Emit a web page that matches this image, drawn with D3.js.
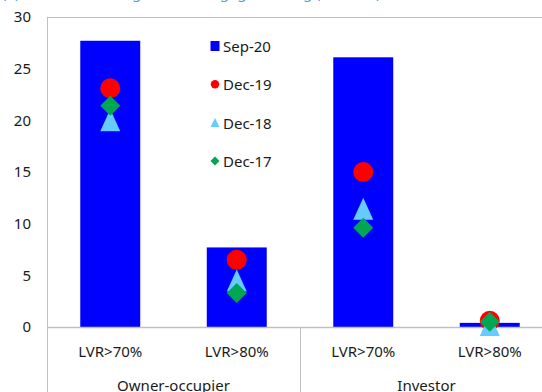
<!DOCTYPE html>
<html><head><meta charset="utf-8">
<script src="https://cdn.jsdelivr.net/npm/d3@7"></script>
<style>
html,body{margin:0;padding:0;background:#fff;overflow:hidden}
text{font-family:"Noto Sans","Open Sans",sans-serif;fill:#1a1a1a}
</style></head><body>
<script>
const categories = ["LVR>70%", "LVR>80%", "LVR>70%", "LVR>80%"];
const groups = ["Owner-occupier", "Investor"];
const seriesNames = ["Sep-20", "Dec-19", "Dec-18", "Dec-17"];
const sep20 = [27.7, 7.7, 26.1, 0.4];
const dec19 = [23.1, 6.5, 15.0, 0.6];
const dec18 = [20.0, 4.5, 11.45, 0.2];
const dec17 = [21.4, 3.3, 9.6, 0.5];
const yTicks = [0, 5, 10, 15, 20, 25, 30];

(function () {
const W = 542, H = 392;
const svg = d3.select("body").append("svg").attr("width", W).attr("height", H);

const pLeft = 47, pRight = 553, pTop = 17, pBottom = 327;
const x = d3.scaleBand().domain(d3.range(categories.length)).range([pLeft, pRight])
  .paddingInner(0.526).paddingOuter(0.263);
const y = d3.scaleLinear().domain([0, 30]).range([pBottom, pTop]);

// title (clipped at top, as in the reference)
svg.append("text").attr("x", 2).attr("y", -2.5).style("font-size", "15px").style("fill", "#4a9fdc")
  .text("(a) Share of new high-LVR mortgage lending (% share)");

// bars
svg.selectAll("rect.bar").data(sep20).join("rect").attr("class", "bar")
  .attr("x", (d, i) => x(i)).attr("width", x.bandwidth())
  .attr("y", d => y(d)).attr("height", d => y(0) - y(d)).attr("fill", "#0000ff");

// axis frame
const grey = "#c0c0c0";
svg.append("line").attr("x1", pLeft).attr("x2", W).attr("y1", pTop + 0.5).attr("y2", pTop + 0.5).attr("stroke", grey);
svg.append("line").attr("x1", pLeft + 0.5).attr("x2", pLeft + 0.5).attr("y1", pTop).attr("y2", H).attr("stroke", grey);
svg.append("line").attr("x1", pLeft).attr("x2", W).attr("y1", y(0) + 0.5).attr("y2", y(0) + 0.5).attr("stroke", grey).attr("stroke-width", 1.5);
const sepX = Math.round((x(1) + x.bandwidth() + x(2)) / 2);
svg.append("line").attr("x1", sepX + 0.5).attr("x2", sepX + 0.5).attr("y1", y(0)).attr("y2", H).attr("stroke", grey);

// y axis labels
const yAxis = d3.axisLeft(y).tickValues(yTicks).tickSize(0).tickPadding(16);
const ga = svg.append("g").attr("transform", `translate(${pLeft},0)`).call(yAxis);
ga.select(".domain").remove();
ga.selectAll("text").style("font-size", "15px").style("font-family", '"Noto Sans",sans-serif').attr("fill", "#1a1a1a");

// x labels
svg.selectAll("text.cat").data(categories).join("text").attr("class", "cat")
  .attr("x", (d, i) => x(i) + x.bandwidth() / 2).attr("y", 357)
  .attr("text-anchor", "middle").style("font-size", "15px").text(d => d);
svg.selectAll("text.grp").data(groups).join("text").attr("class", "grp")
  .attr("x", (d, i) => (x(i * 2) + x(i * 2 + 1) + x.bandwidth()) / 2).attr("y", 391)
  .attr("text-anchor", "middle").style("font-size", "15px").text(d => d);

// marker shapes
const circlePath = r => d3.symbol(d3.symbolCircle, Math.PI * r * r)();
const triPath = (w, h) => `M0,${-h / 2}L${w / 2},${h / 2}L${-w / 2},${h / 2}Z`;
const diaPath = r => `M0,${-r}L${r},0L0,${r}L${-r},0Z`;

const cx = i => x(i) + x.bandwidth() / 2;
svg.selectAll("path.d19").data(dec19).join("path").attr("class", "d19")
  .attr("d", circlePath(10)).attr("fill", "#ff0000")
  .attr("transform", (d, i) => `translate(${cx(i)},${y(d)})`);
svg.selectAll("path.d18").data(dec18).join("path").attr("class", "d18")
  .attr("d", triPath(20, 22)).attr("fill", "#66ccff")
  .attr("transform", (d, i) => `translate(${cx(i)},${y(d)})`);
svg.selectAll("path.d17").data(dec17).join("path").attr("class", "d17")
  .attr("d", diaPath(10)).attr("fill", "#00a651")
  .attr("transform", (d, i) => `translate(${cx(i)},${y(d)})`);

// legend
const lg = svg.append("g").attr("transform", "translate(215,46)");
const step = 38.3;
const legendShapes = [
  g => g.append("rect").attr("x", -4.5).attr("y", -5).attr("width", 9).attr("height", 10).attr("fill", "#0000ff"),
  g => g.append("path").attr("d", circlePath(4.2)).attr("fill", "#ff0000"),
  g => g.append("path").attr("d", triPath(9, 9)).attr("fill", "#66ccff"),
  g => g.append("path").attr("d", diaPath(4.5)).attr("fill", "#00a651"),
];
seriesNames.forEach((s, i) => {
  const g = lg.append("g").attr("transform", `translate(0,${i * step})`);
  legendShapes[i](g);
  g.append("text").attr("x", 8).attr("y", 6).style("font-size", "15px").text(s);
});
})();
</script>
</body></html>
